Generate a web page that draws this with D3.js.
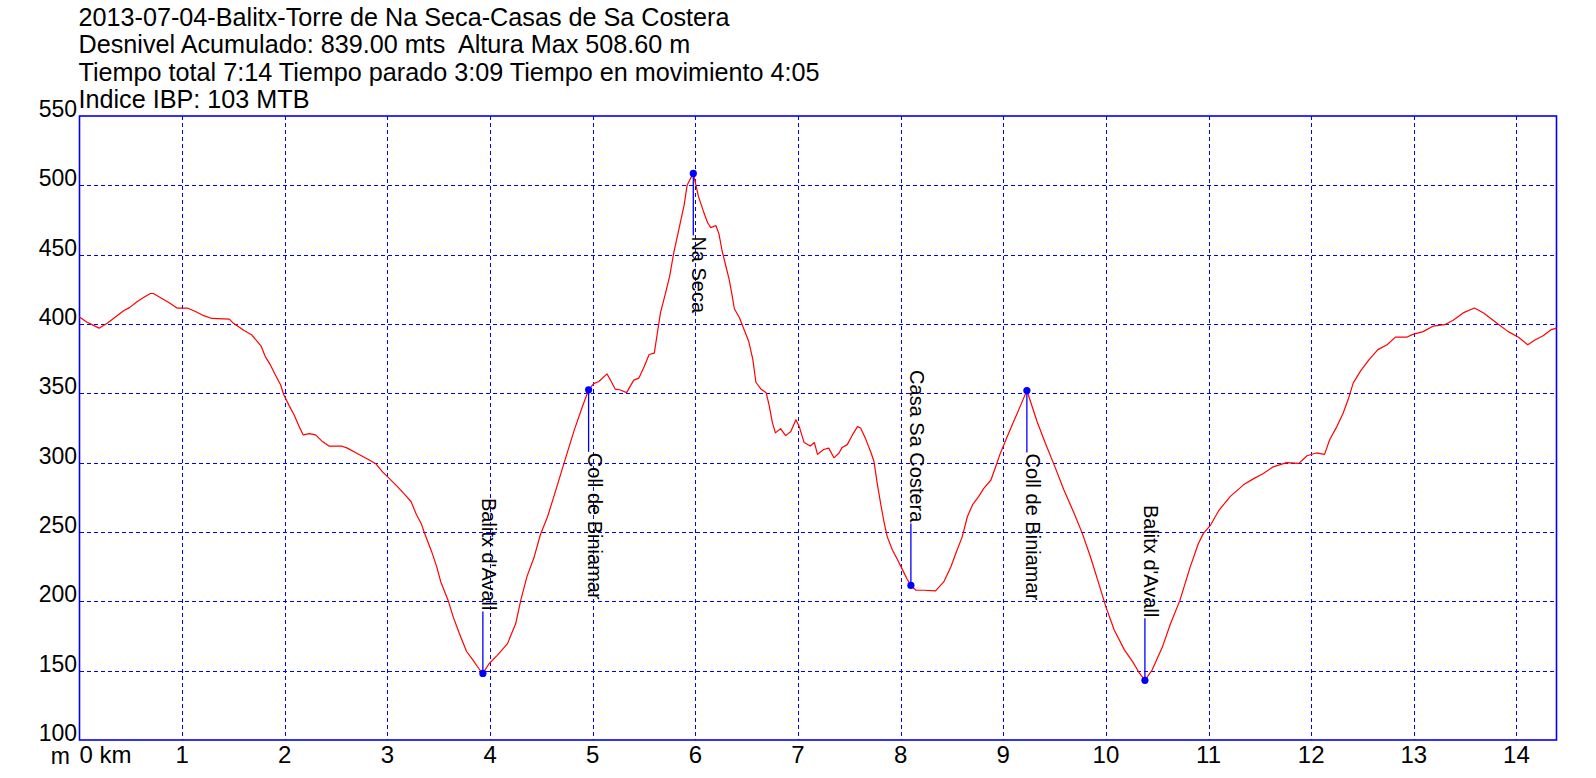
<!DOCTYPE html>
<html>
<head>
<meta charset="utf-8">
<script src="https://cdn.jsdelivr.net/npm/d3@7/dist/d3.min.js"></script>
<style>
  html, body { margin: 0; padding: 0; background: #fff; }
  svg { display: block; }
  text { font-family: "Liberation Sans", Arial, sans-serif; fill: #000; white-space: pre; }
</style>
</head>
<body>
<svg id="chart" width="1596" height="778"></svg>
<script>
const titleLines = [
  "2013-07-04-Balitx-Torre de Na Seca-Casas de Sa Costera",
  "Desnivel Acumulado: 839.00 mts  Altura Max 508.60 m",
  "Tiempo total 7:14 Tiempo parado 3:09 Tiempo en movimiento 4:05",
  "Indice IBP: 103 MTB"
];

const xTicks = [1, 2, 3, 4, 5, 6, 7, 8, 9, 10, 11, 12, 13, 14];
const yTicks = [100, 150, 200, 250, 300, 350, 400, 450, 500, 550];

const distanceKm = [
  0.00, 0.07, 0.19, 0.27, 0.35, 0.43, 0.49, 0.56, 0.62, 0.69, 0.72, 0.79, 0.87, 0.95,
  1.05, 1.13, 1.21, 1.29, 1.46, 1.50, 1.60, 1.68, 1.77, 1.81, 1.86, 1.90, 1.96, 1.99,
  2.04, 2.09, 2.14, 2.18, 2.24, 2.30, 2.37, 2.43, 2.55, 2.61, 2.71, 2.81, 2.89, 2.95,
  3.02, 3.10, 3.17, 3.23, 3.28, 3.33, 3.36, 3.43, 3.48, 3.52, 3.59, 3.64, 3.70, 3.77,
  3.83, 3.90, 3.93, 3.99, 4.07, 4.17, 4.25, 4.30, 4.36, 4.43, 4.49, 4.56, 4.64, 4.72,
  4.82, 4.90, 4.96, 5.01, 5.06, 5.14, 5.17, 5.22, 5.27, 5.33, 5.40, 5.45, 5.50, 5.55,
  5.60, 5.63, 5.66, 5.71, 5.75, 5.79, 5.84, 5.89, 5.92, 5.95, 5.98, 6.00, 6.03, 6.08,
  6.12, 6.15, 6.20, 6.23, 6.26, 6.29, 6.33, 6.36, 6.38, 6.43, 6.48, 6.52, 6.56, 6.59,
  6.64, 6.69, 6.72, 6.75, 6.78, 6.83, 6.88, 6.93, 6.98, 7.01, 7.06, 7.12, 7.16, 7.19,
  7.25, 7.30, 7.35, 7.40, 7.43, 7.48, 7.53, 7.58, 7.61, 7.66, 7.71, 7.74, 7.77, 7.81,
  7.84, 7.87, 7.92, 7.97, 8.02, 8.06, 8.10, 8.15, 8.23, 8.34, 8.42, 8.49, 8.55, 8.60,
  8.65, 8.70, 8.76, 8.81, 8.88, 8.93, 8.97, 9.04, 9.10, 9.17, 9.23, 9.27, 9.33, 9.41,
  9.49, 9.59, 9.69, 9.77, 9.85, 9.93, 10.00, 10.08, 10.18, 10.26, 10.32, 10.38, 10.45,
  10.55, 10.63, 10.72, 10.82, 10.90, 10.95, 11.02, 11.10, 11.21, 11.34, 11.44, 11.53,
  11.63, 11.76, 11.88, 11.96, 12.05, 12.13, 12.18, 12.25, 12.31, 12.36, 12.41, 12.48,
  12.56, 12.65, 12.74, 12.82, 12.93, 12.99, 13.09, 13.19, 13.30, 13.38, 13.48, 13.59,
  13.68, 13.81, 13.92, 14.02, 14.11, 14.18, 14.26, 14.34, 14.39
];

const elevationM = [
  405, 401.5, 397, 400.5, 405, 409.5, 412, 416, 419, 422, 422, 419, 415.5, 411.5,
  411.5, 409, 406, 404, 403.5, 400.5, 395.5, 392, 384, 376.5, 370.5, 364.5, 356, 349,
  341.5, 334.5, 326, 320, 321, 320, 315, 312, 312, 310.5, 306.5, 302.5, 299, 293.5,
  288.5, 282.5, 277, 272, 263, 256, 249.5, 236, 225, 214, 201, 189, 177, 164,
  158, 150.5, 148, 155, 161, 169.5, 184, 201, 218, 232, 248, 261, 280, 299.5,
  323.5, 340.5, 352.5, 357, 358.5, 364, 360, 353, 352.4, 350.5, 359.5, 361, 369, 378,
  379, 393.5, 408, 422.5, 434.5, 451.5, 468.5, 485.5, 500, 504.5, 508.6, 502, 492, 481,
  473, 469.5, 471, 465, 453, 444, 432, 420, 411, 404.5, 395, 387.5, 374.5, 358,
  353, 350.5, 341, 329, 321.5, 324.5, 319.5, 322.5, 331, 326.5, 314.5, 312, 314.5, 306,
  309.5, 310.5, 303.5, 307, 311, 313, 320, 326, 325, 317, 307.5, 301, 286, 268.5,
  256.5, 246.5, 237, 230, 222.5, 216.5, 211.5, 208, 208, 207.5, 214, 225, 237, 246.5,
  261, 269.5, 275.5, 281.5, 287.5, 298, 306.5, 319, 329.5, 341.5, 352, 343, 329.5, 314,
  299.5, 280.5, 263.5, 249, 232, 213, 196, 179.5, 165, 156.5, 149, 143, 150.5,
  167, 184, 200.5, 224.5, 241.5, 249, 255, 265.5, 275.5, 284, 288.5, 292,
  297, 300, 299.5, 305, 307, 306, 316.5, 326, 335.5, 345.5, 357.5, 366,
  374, 381.5, 385, 390.5, 390.5, 392.5, 394.5, 398.5, 399.5, 402.5, 408, 411.5,
  408, 400.5, 394.5, 390.5, 385, 388.5, 391.5, 396, 397
];

const waypointNames = ["Balitx d'Avall", "Coll de Biniamar", "Na Seca", "Casa Sa Costera", "Coll de Biniamar", "Balitx d'Avall"];
const waypointKm = [3.93, 4.96, 5.98, 8.10, 9.23, 10.38];
const waypointElev = [148, 352.5, 508.6, 211.5, 352, 143];

const svg = d3.select("#chart");
svg.append("rect").attr("width", 1596).attr("height", 778).attr("fill", "#fff");

const x = d3.scaleLinear().domain([0, 14.39]).range([79.5, 1556.5]);
const y = d3.scaleLinear().domain([100, 550]).range([740, 116]);

const blue = "#0000ff";

// title
svg.append("g").selectAll("text").data(titleLines).join("text")
  .attr("x", 78.5)
  .attr("y", (d, i) => 25.5 + i * 27.5)
  .attr("font-size", 25.2)
  .attr("xml:space", "preserve")
  .text(d => d);

// grid
const grid = svg.append("g").attr("shape-rendering", "crispEdges");
grid.selectAll("line.v").data(xTicks).join("line")
  .attr("class", "v")
  .attr("x1", d => Math.round(x(d)) + 0.5).attr("x2", d => Math.round(x(d)) + 0.5)
  .attr("y1", y(550)).attr("y2", y(100))
  .attr("stroke", blue).attr("stroke-width", 1).attr("stroke-dasharray", "4,3");
grid.selectAll("line.h").data(yTicks.filter(v => v > 100 && v < 550)).join("line")
  .attr("class", "h")
  .attr("y1", d => Math.round(y(d)) + 0.5).attr("y2", d => Math.round(y(d)) + 0.5)
  .attr("x1", x(0)).attr("x2", x(14.39))
  .attr("stroke", blue).attr("stroke-width", 1).attr("stroke-dasharray", "4,3");

// border
svg.append("rect")
  .attr("x", x(0)).attr("y", y(550))
  .attr("width", x(14.39) - x(0)).attr("height", y(100) - y(550))
  .attr("fill", "none").attr("stroke", blue).attr("stroke-width", 1.6);

// y tick labels
svg.append("g").selectAll("text").data(yTicks).join("text")
  .attr("x", 77)
  .attr("y", d => y(d) + 1)
  .attr("text-anchor", "end")
  .attr("font-size", 23)
  .text(d => d);

// x tick labels
svg.append("g").selectAll("text").data(xTicks).join("text")
  .attr("x", d => x(d))
  .attr("y", 763)
  .attr("text-anchor", "middle")
  .attr("font-size", 24)
  .text(d => d);
svg.append("text").attr("x", 70).attr("y", 764).attr("text-anchor", "end").attr("font-size", 23).text("m");
svg.append("text").attr("x", x(0)).attr("y", 763).attr("text-anchor", "start").attr("font-size", 24).text("0 km");

// profile line
const pts = distanceKm.map((d, i) => [d, elevationM[i]]);
const line = d3.line().x(d => x(d[0])).y(d => y(d[1]));
svg.append("path").datum(pts)
  .attr("d", line)
  .attr("fill", "none").attr("stroke", "#ff0000").attr("stroke-width", 1.2)
  .attr("stroke-linejoin", "round");

// waypoints
const wp = waypointNames.map((n, i) => ({ name: n, km: waypointKm[i], elev: waypointElev[i] }));
const wg = svg.append("g");
const stem = 62;
wp.forEach(d => {
  const px = x(d.km), py = y(d.elev);
  const below = d.elev > 325;
  const ey = below ? py + stem : py - stem;
  wg.append("line")
    .attr("x1", px).attr("x2", px).attr("y1", py).attr("y2", ey)
    .attr("stroke", blue).attr("stroke-width", 1.3);
  wg.append("circle").attr("cx", px).attr("cy", py).attr("r", 3.6).attr("fill", blue);
  const ty = below ? ey + 1 : ey - 1;
  wg.append("text")
    .attr("transform", `translate(${px - 1},${ty}) rotate(90)`)
    .attr("text-anchor", below ? "start" : "end")
    .attr("font-size", 20)
    .text(d.name);
});
</script>
</body>
</html>
